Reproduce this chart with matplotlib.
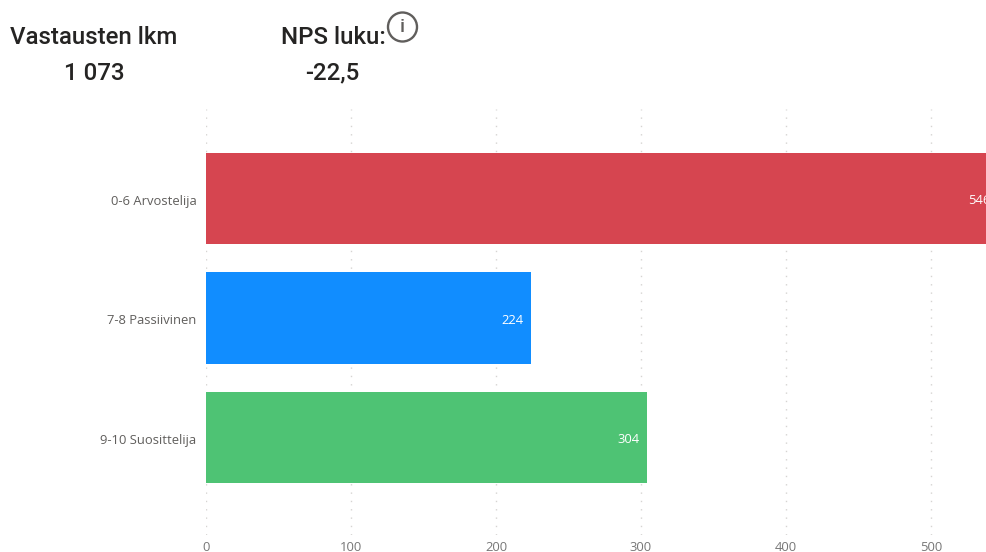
"""NPS answer counts: horizontal bars with two header figures."""

import matplotlib

matplotlib.use("Agg")
import matplotlib.pyplot as plt
from matplotlib.patches import Circle
from matplotlib.transforms import Affine2D

categories = ["0-6 Arvostelija", "7-8 Passiivinen", "9-10 Suosittelija"]
counts = [546, 224, 304]
bar_colors = ["#D64550", "#118DFF", "#4EC374"]
x_ticks = [0, 100, 200, 300, 400, 500]

W, H = 987, 552
DPI = 100
DARK = "#252423"
GREY = "#605E5C"
RIGHT = W + 2  # bar runs off the picture, axes end just past the edge


def px_x(x):
    return x / W


def px_y(y):
    return 1 - y / H


plt.rcParams["font.family"] = ["Open Sans", "DejaVu Sans"]

fig = plt.figure(figsize=(W / DPI, H / DPI), dpi=DPI, facecolor="white")
ax = fig.add_axes([px_x(206), px_y(535), px_x(RIGHT - 206), (535 - 109) / H])

positions = list(range(len(categories)))
ax.barh(positions, counts, height=0.763, color=bar_colors, zorder=3)
ax.set_xlim(0, (RIGHT - 206) / 1.45)
ax.set_ylim(2 + (535 - 437.5) / 119.3, -(198.5 - 109) / 119.3)

ax.set_yticks(positions, categories)
ax.set_xticks(x_ticks)
ax.tick_params(axis="both", length=0)
ax.tick_params(axis="y", pad=7, labelsize=9.4, labelcolor=GREY)
ax.tick_params(axis="x", pad=4.2, labelsize=9.4, labelcolor="#777777")
ax.grid(axis="x", color="#D6D4D2", linestyle=(0, (1, 5)), linewidth=1.0, zorder=0)
ax.set_axisbelow(True)
for spine in ax.spines.values():
    spine.set_visible(False)

# category labels sit a little lower than the bar centres
for label in ax.get_yticklabels():
    label.set_transform(label.get_transform() + Affine2D().translate(0, -1.5))

# 546 runs past the right edge, so it is not clipped to the axes
for pos, value in zip(positions, counts):
    ax.annotate(
        str(value),
        xy=(value, pos),
        xytext=(-7.5 * 72 / DPI, -2.2 * 72 / DPI),
        textcoords="offset points",
        ha="right",
        va="center",
        color="white",
        fontsize=9.4,
        annotation_clip=False,
        zorder=4,
    )

header = {
    "family": ["Roboto", "DejaVu Sans"],
    "weight": "medium",
    "color": DARK,
    "ha": "center",
    "va": "center",
    "fontsize": 17.3,
}
fig.text(px_x(94), px_y(38), "Vastausten lkm", **header)
fig.text(px_x(94), px_y(73), "1 073", **header)
fig.text(px_x(333), px_y(38), "NPS luku:", **header)
fig.text(px_x(332), px_y(73), "-22,5", **header)

# info icon, drawn in pixel coordinates
fig.add_artist(
    Circle((402.5, H - 27), 14.5, transform=None, fill=False, edgecolor=GREY, linewidth=1.7)
)
fig.text(px_x(402.5), px_y(27), "i", family=["Roboto"], weight="medium", color=GREY, ha="center", va="center", fontsize=14)

fig.savefig("out.png", dpi=DPI)
plt.close(fig)
